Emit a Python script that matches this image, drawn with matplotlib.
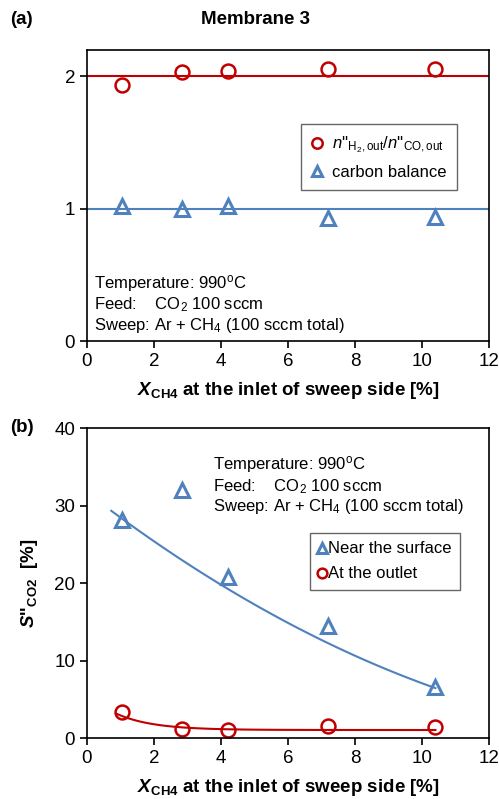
import numpy as np
import matplotlib
matplotlib.use("Agg")
import matplotlib.pyplot as plt

plt.rcParams['font.family'] = ['Liberation Sans', 'DejaVu Sans']
plt.rcParams['mathtext.fontset'] = 'custom'
plt.rcParams['mathtext.rm'] = 'Liberation Sans'
plt.rcParams['mathtext.it'] = 'Liberation Sans:italic'
plt.rcParams['mathtext.bf'] = 'Liberation Sans:bold'
plt.rcParams['mathtext.bfit'] = 'Liberation Sans:bold:italic'

RED = '#C00000'
BLUE = '#4F81BD'

# data
x_ch4 = [1.05, 2.85, 4.2, 7.2, 10.4]
h2_co_ratio = [1.93, 2.03, 2.04, 2.05, 2.05]
carbon_balance = [1.02, 1.00, 1.02, 0.93, 0.94]
ratio_ref = 2.0
carbon_ref = 1.0

s_near_surface = [28.1, 32.0, 20.8, 14.4, 6.6]
s_outlet = [3.3, 1.2, 1.0, 1.5, 1.4]

# trend lines
trend_near_x = [0.73, 3.07, 3.97, 4.87, 5.76, 7.15, 10.24]
trend_near_y = [29.4, 22.3, 19.7, 17.4, 15.5, 12.6, 6.6]
trend_out_x = [0.9, 1.78, 2.78, 4.17, 7.2, 10.4]
trend_out_y = [3.1, 2.0, 1.33, 1.16, 1.05, 1.03]

x_ticks = [0, 2, 4, 6, 8, 10, 12]

cond_lines = ["Temperature: 990$^{\\mathrm{o}}$C",
              "Feed:    CO$_{\\mathrm{2}}$ 100 sccm",
              "Sweep: Ar + CH$_{\\mathrm{4}}$ (100 sccm total)"]
xlabel = r"$\mathbfit{X}_{\mathbf{CH4}}$ at the inlet of sweep side [%]"

FS = 13.5
fig = plt.figure(figsize=(4.99, 7.99), dpi=100)
ax1 = fig.add_axes([0.174, 0.573, 0.806, 0.365])
ax2 = fig.add_axes([0.174, 0.0763, 0.806, 0.388])

for ax in (ax1, ax2):
    ax.set_xlim(0, 12)
    ax.set_xticks(x_ticks)
    ax.tick_params(direction='out', length=5, width=1.2, labelsize=FS, top=False, right=False)
    for s in ax.spines.values():
        s.set_linewidth(1.2)
    ax.set_xlabel(xlabel, fontsize=FS, fontweight='bold', labelpad=7)

# (a)
ax1.set_ylim(0, 2.2)
ax1.set_yticks([0, 1, 2])
ax1.axhline(ratio_ref, color=RED, lw=1.5, zorder=1)
ax1.axhline(carbon_ref, color=BLUE, lw=1.5, zorder=1)
ax1.plot(x_ch4, h2_co_ratio, 'o', ms=10, mfc='none', mec=RED, mew=1.8,
         label=r"$\mathit{n}$''$_{\mathrm{H_2,out}}$/$\mathit{n}$''$_{\mathrm{CO,out}}$")
ax1.plot(x_ch4, carbon_balance, '^', ms=10, mfc='none', mec=BLUE, mew=2.2,
         label="carbon balance")
ax1.legend(loc='upper right', bbox_to_anchor=(0.92, 0.743), borderaxespad=0,
           fontsize=12, frameon=True, fancybox=False, edgecolor='#404040',
           handlelength=0.8, handletextpad=0.5, borderpad=0.6, labelspacing=0.6,
           markerscale=0.75)
ax1.text(0.018, 0.235, "\n".join(cond_lines), transform=ax1.transAxes,
         fontsize=12, va='top', ha='left', linespacing=1.12)
fig.text(10 / 499, 1 - 20 / 799, "(a)", fontsize=FS, fontweight='bold', va='center')
fig.text(256 / 499, 1 - 20 / 799, "Membrane 3", fontsize=FS, fontweight='bold',
         va='center', ha='center')

# (b)
ax2.set_ylim(0, 40)
ax2.set_yticks([0, 10, 20, 30, 40])
c_blue = np.polyfit(trend_near_x, trend_near_y, 2)
xb = np.linspace(trend_near_x[0], 10.4, 100)
ax2.plot(xb, np.polyval(c_blue, xb), color=BLUE, lw=1.5, zorder=1)

# exponential-plus-constant trend for the outlet series
tx = np.array(trend_out_x)
best = None
for k in np.linspace(0.1, 3, 291):
    A = np.column_stack([np.ones_like(tx), np.exp(-k * tx)])
    coef, *_ = np.linalg.lstsq(A, trend_out_y, rcond=None)
    err = np.sum((A @ coef - trend_out_y) ** 2)
    if best is None or err < best[0]:
        best = (err, k, coef)
_, k_r, coef_r = best
xr = np.linspace(trend_out_x[0], trend_out_x[-1], 100)
ax2.plot(xr, coef_r[0] + coef_r[1] * np.exp(-k_r * xr), color=RED, lw=1.5, zorder=1)

ax2.plot(x_ch4, s_near_surface, '^', ms=10, mfc='none', mec=BLUE, mew=2.2,
         label="Near the surface")
ax2.plot(x_ch4, s_outlet, 'o', ms=10, mfc='none', mec=RED, mew=1.8,
         label="At the outlet")
ax2.legend(loc='upper right', bbox_to_anchor=(0.928, 0.661), borderaxespad=0,
           fontsize=12, frameon=True, fancybox=False, edgecolor='#404040',
           handlelength=0.5, handletextpad=0.1, borderpad=0.5, labelspacing=0.6,
           markerscale=0.7)
ax2.text(0.313, 0.915, "\n".join(cond_lines), transform=ax2.transAxes,
         fontsize=12, va='top', ha='left', linespacing=1.12)
ax2.set_ylabel(r"$\mathbfit{S}$''$_{\mathbf{CO2}}$  [%]", fontsize=FS,
               fontweight='bold', labelpad=10)
fig.text(10 / 499, 1 - 428 / 799, "(b)", fontsize=FS, fontweight='bold', va='center')

fig.savefig("out.png", dpi=100)
